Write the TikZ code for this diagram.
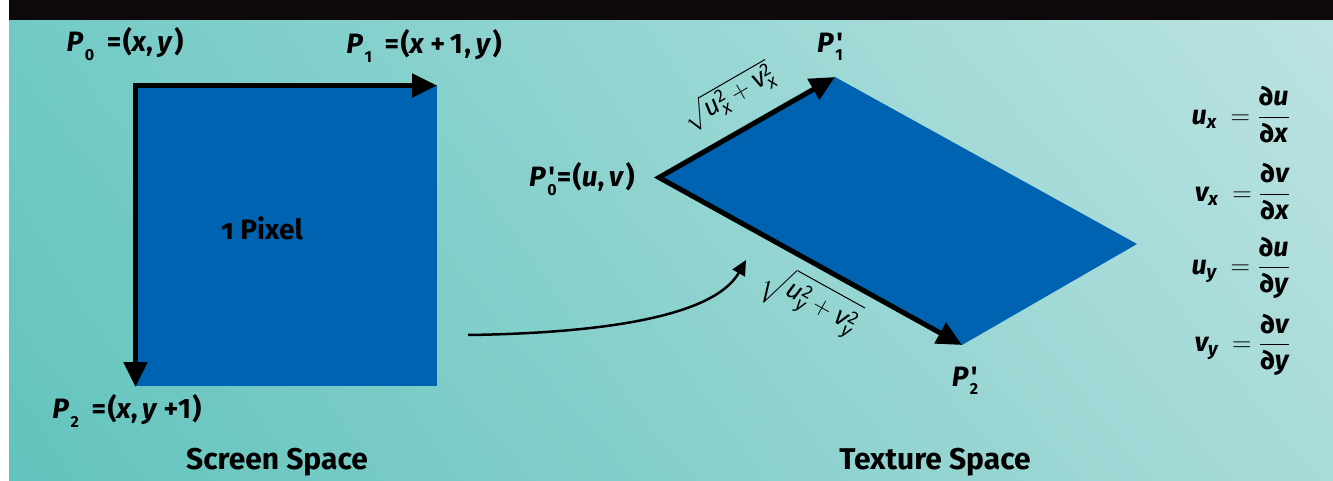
\documentclass[tikz,border=0pt]{standalone}
\usepackage{fix-cm}
\usepackage{amsmath}
\usepackage{fontspec}
\setmainfont{Fira Sans}
\usetikzlibrary{arrows.meta,shadings}
\definecolor{pixblue}{HTML}{0063B2}
\definecolor{barblack}{HTML}{0E0A0C}
\definecolor{bgUL}{HTML}{72CAC5}
\definecolor{bgLL}{HTML}{63C3BD}
\definecolor{bgUR}{HTML}{BCE3E2}
\definecolor{bgLR}{HTML}{A8DBD9}
\newcommand\vr[1]{\textit{#1}}
\newcommand\lowsub[1]{\raisebox{-0.3em}{\fontsize{16}{18}\selectfont\upshape #1}}
\newcommand\ps[2]{#1\lowsub{#2}}
\newcommand\pp[2]{#1\makebox[0pt][l]{\hspace{1pt}\upshape\textquotesingle}\lowsub{#2}}
\tikzset{
  lbl/.style={font=\fontsize{28}{32}\selectfont\bfseries\addfontfeatures{LetterSpace=5}, inner sep=0pt},
  spacetitle/.style={font=\fontsize{30}{34}\selectfont\bfseries, inner sep=0pt},
  eqn/.style={font=\fontsize{27}{31}\selectfont\bfseries, inner sep=0pt, anchor=east},
  rootlbl/.style={font=\fontsize{26}{30}\selectfont, inner sep=0pt},
  bigarrows/.style={line width=5pt, {Triangle[length=25pt,width=23pt]}-{Triangle[length=25pt,width=23pt]}},
  thinarrow/.style={line width=2.5pt, -{Triangle[length=15pt,width=14pt]}}
}
\begin{document}
\begin{tikzpicture}[x=1pt,y=-1pt]
\useasboundingbox (0,0) rectangle (1333,481);
\fill[white] (0,0) rectangle (1333,481);
\shade[upper left=bgUL, upper right=bgUR, lower left=bgLL, lower right=bgLR] (9,20) rectangle (1333,481);
\fill[barblack] (9,0) rectangle (1333,20);

% screen space
\coordinate (A0) at (135.5,85.5);
\coordinate (A1) at (437,85.5);
\coordinate (A2) at (135.5,387);
\fill[pixblue] (135,85) rectangle (437,386);
\draw[bigarrows, line join=miter] (A1) -- (A0) -- (A2);
\node[lbl] (p0) at (125,44) {\ps{\vr{P}}{0}\, =(\vr{x},\,\vr{y})};
\node[lbl] (p1) at (424,46) {\ps{\vr{P}}{1}\, =(\vr{x}\,+\,1,\,\vr{y})};
\node[lbl] (p2) at (127,411) {\ps{\vr{P}}{2}\, =(\vr{x},\,\vr{y}\,+1)};
\node[font=\fontsize{28}{32}\selectfont\bfseries\addfontfeatures{Numbers=OldStyle}, inner sep=0pt] (pix) at (262,228) {1 Pixel};
\node[spacetitle] (ss) at (277,462) {Screen Space};

% texture space
\coordinate (B0) at (659,177.5);
\coordinate (B1) at (835,77);
\coordinate (B2) at (962,345);
\coordinate (B3) at (1137,244);
\fill[pixblue] (B0) -- (B1) -- (B3) -- (B2) -- cycle;
\draw[bigarrows, line join=miter] (B1) -- (B0) -- (B2);
\node[lbl] (q0) at (582,179) {\pp{\vr{P}}{0}=(\vr{u},\,\vr{v})};
\node[lbl] (q1) at (830,47) {\pp{\vr{P}}{1}};
\node[lbl] (q2) at (965,381) {\pp{\vr{P}}{2}};
\node[rootlbl, rotate=30] (r1) at (728,97) {$\sqrt{\text{\itshape u}_{\text{\itshape x}}^{\text{2}}+\text{\itshape v}_{\text{\itshape x}}^{\text{2}}}$};
\node[rootlbl, rotate=-29] (r2) at (810,302) {$\sqrt{\text{\itshape u}_{\text{\itshape y}}^{\text{2}}+\text{\itshape v}_{\text{\itshape y}}^{\text{2}}}$};
\node[spacetitle] (ts) at (935,462) {Texture Space};

% mapping arrow
\coordinate (C0) at (468,335);
\coordinate (C1) at (746,260);
\draw[thinarrow] (C0) .. controls (610,333) and (715,315) .. (C1);

% derivatives
\node[eqn] (e1) at (1290,115) {$\text{\itshape u}_{\text{\itshape x}}\ =\dfrac{\text{∂\itshape u}}{\text{∂\itshape x}}$};
\node[eqn] (e2) at (1290,192) {$\text{\itshape v}_{\text{\itshape x}}\ =\dfrac{\text{∂\itshape v}}{\text{∂\itshape x}}$};
\node[eqn] (e3) at (1290,268) {$\text{\itshape u}_{\text{\itshape y}}\ =\dfrac{\text{∂\itshape u}}{\text{∂\itshape y}}$};
\node[eqn] (e4) at (1290,345) {$\text{\itshape v}_{\text{\itshape y}}\ =\dfrac{\text{∂\itshape v}}{\text{∂\itshape y}}$};
\end{tikzpicture}
\end{document}
